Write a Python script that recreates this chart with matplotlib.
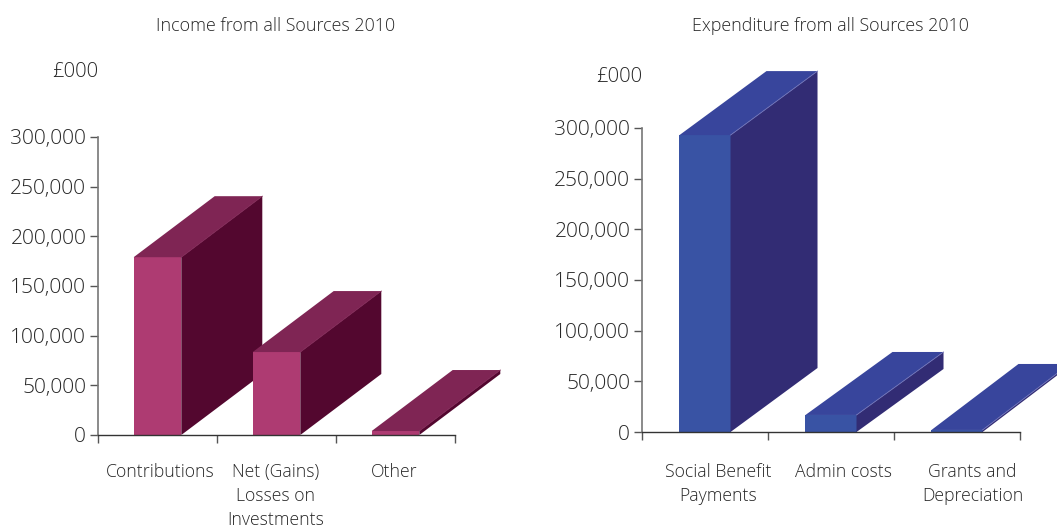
import matplotlib
matplotlib.use("Agg")
import matplotlib.pyplot as plt
from matplotlib.patches import Polygon
from matplotlib.transforms import ScaledTranslation

W, H = 1057, 529

income_labels = ["Contributions", "Net (Gains)\nLosses on\nInvestments", "Other"]
income_values = [179000, 83500, 4000]

spend_labels = ["Social Benefit\nPayments", "Admin costs", "Grants and\nDepreciation"]
spend_values = [293000, 16800, 2000]

y_ticks = [0, 50000, 100000, 150000, 200000, 250000, 300000]

INCOME_COLORS = {"front": "#ae3b72", "top": "#7f2554", "side": "#53072f", "edge": "#7f2554"}
SPEND_COLORS = {"front": "#3953a4", "top": "#38459c", "side": "#322c74", "edge": "#6f73b8"}
TEXT = "#262626"

plt.rcParams["font.family"] = ["Open Sans", "DejaVu Sans"]
plt.rcParams["font.weight"] = "light"


def panel(fig, box, labels, values, colors, depth_x, depth_y, width, label_shift):
    left, right, bottom, top = box
    ax = fig.add_axes([left / W, 1 - bottom / H, (right - left) / W, (bottom - top) / H])
    ax.set_xlim(0, 3)
    ax.set_ylim(0, 300000)
    ax.patch.set_alpha(0)

    # oblique depth of the bars, given in pixels and converted to data units
    dx = depth_x * 3 / (right - left)

    for i, v in enumerate(values):
        dy = depth_y[i] * 300000 / (bottom - top)
        x0, x1 = i + 0.5 - width / 2, i + 0.5 + width / 2
        ax.bar(i + 0.5, v, width=width, color=colors["front"], zorder=2)
        ax.add_patch(Polygon([(x1, 0), (x1 + dx, dy), (x1 + dx, v + dy), (x1, v)],
                             closed=True, fc=colors["side"], ec="none", clip_on=False, zorder=2))
        ax.add_patch(Polygon([(x0, v), (x0 + dx, v + dy), (x1 + dx, v + dy), (x1, v)],
                             closed=True, fc=colors["top"], ec="none", clip_on=False, zorder=3))
        ax.plot([x1, x1 + dx], [v, v + dy], color=colors["edge"], lw=0.6, clip_on=False, zorder=4)

    for s in ["top", "right"]:
        ax.spines[s].set_visible(False)
    ax.spines["left"].set_color("#777777")
    ax.spines["left"].set_linewidth(1.2)
    ax.spines["bottom"].set_color("#333333")
    ax.spines["bottom"].set_linewidth(1.0)
    ax.spines["bottom"].set_zorder(5)

    ax.set_yticks(y_ticks)
    ax.set_yticklabels([f"{t:,}" for t in y_ticks], fontsize=15.1, color=TEXT)
    ax.set_xticks([0, 1, 2, 3])
    ax.set_xticklabels([])
    ax.tick_params(axis="y", length=6, width=1.0, color="#555555", pad=2.5)
    ax.tick_params(axis="x", length=5.5, width=1.0, color="#555555")

    # category names sit below the axis, one line roughly every 24 px
    for i, name in enumerate(labels):
        offset = ScaledTranslation(label_shift[i] / fig.dpi, -(471 - bottom - 8) / fig.dpi,
                                   fig.dpi_scale_trans)
        ax.text(i + 0.5, 0, name, transform=ax.get_xaxis_transform() + offset,
                ha="center", va="top", fontsize=12.7, color=TEXT, linespacing=1.42)
    return ax


fig = plt.figure(figsize=(W / 100, H / 100), dpi=100)

panel(fig, (98, 455, 435, 137), income_labels, income_values, INCOME_COLORS,
      81, [61, 61, 61], 0.4, [2.5, -1, -1])
panel(fig, (642, 1020, 432, 128), spend_labels, spend_values, SPEND_COLORS,
      87, [64, 63, 66], 0.405, [13, 13, 15.5])

fig.text(276 / W, 1 - 26 / H, "Income from all Sources 2010", ha="center", va="center",
         fontsize=12.9, color=TEXT)
fig.text(830 / W, 1 - 26 / H, "Expenditure from all Sources 2010", ha="center", va="center",
         fontsize=12.9, color=TEXT)
fig.text(75 / W, 1 - 72 / H, "£000", ha="center", va="center", fontsize=14.6, color=TEXT)
fig.text(619 / W, 1 - 77 / H, "£000", ha="center", va="center", fontsize=14.6, color=TEXT)

fig.savefig("out.png", dpi=100)
